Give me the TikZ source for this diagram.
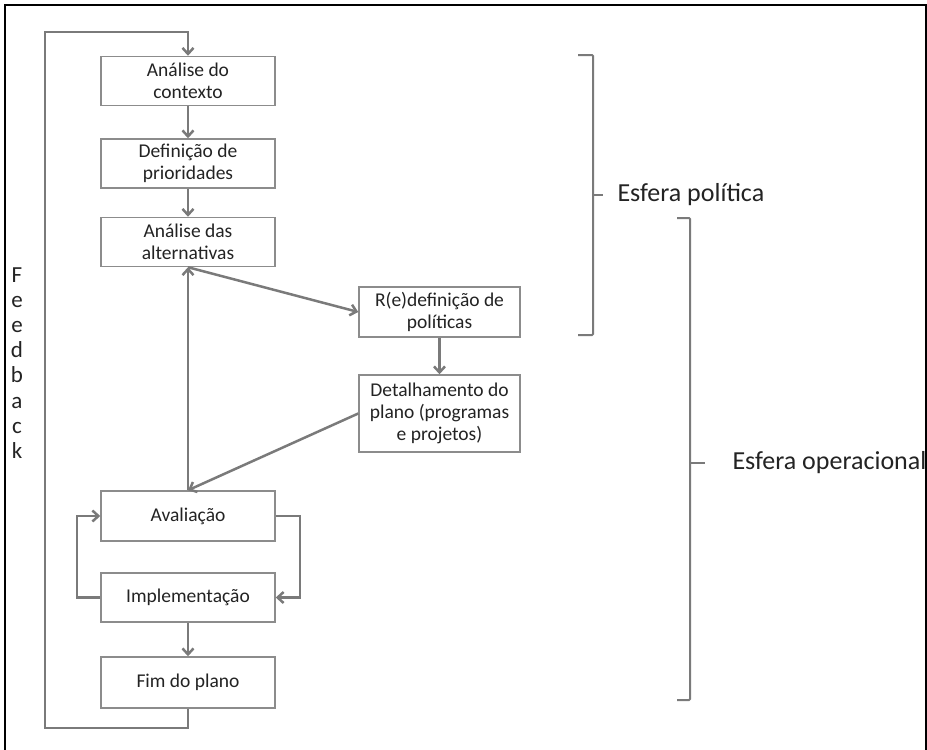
\documentclass[tikz,border=0pt]{standalone}
\usepackage{fontspec}
\setmainfont{Carlito}
\usetikzlibrary{arrows.meta}

\definecolor{linegray}{RGB}{122,122,122}
\definecolor{boxgray}{RGB}{140,140,140}
\definecolor{txtgray}{RGB}{35,35,35}

\begin{document}
\begin{tikzpicture}[x=1pt, y=-1pt,
    stage/.style={draw=boxgray, line width=1.5pt, fill=white, minimum width=174pt,
        minimum height=49pt, inner sep=0pt, align=center, text=txtgray,
        font=\fontsize{19.5}{22}\selectfont},
    flow/.style={draw=linegray, line width=2.5pt, -{Straight Barb[length=6pt, width=11pt]}},
    brace/.style={draw=linegray, line width=2pt, rounded corners=1pt},
    sphere/.style={anchor=west, text=txtgray, font=\fontsize{26}{28}\selectfont}]
    \useasboundingbox (0,0) rectangle (927,750);

    % Frame (open at the bottom)
    \draw[black, line width=1.2pt] (5,750) -- (5,5) -- (926,5) -- (926,750);

    % Define stages
    \node[stage] (ctx) at (188,81) {Análise do\\contexto};
    \node[stage] (prio) at (188,163.5) {Definição de\\prioridades};
    \node[stage] (alt) at (188,242) {Análise das\\alternativas};
    \node[stage, minimum width=161pt, minimum height=50pt] (redef) at (439.5,312) {R(e)definição de\\políticas};
    \node[stage, minimum width=161pt, minimum height=77pt] (det) at (439.5,413.5) {Detalhamento do\\plano (programas\\e projetos)};
    \node[stage, minimum height=50pt] (aval) at (188,516) {Avaliação};
    \node[stage] (impl) at (188,597.5) {Implementação};
    \node[stage, minimum height=51pt] (fim) at (188,682.5) {Fim do plano};

    % Feedback label
    \node[text=txtgray, align=center, font=\fontsize{23}{25.1}\selectfont] (fb) at (17,363) {F\\e\\e\\d\\b\\a\\c\\k};

    % Corner points of the loops
    \coordinate (fbBot) at (45,728);
    \coordinate (fbTop) at (45,32);
    \coordinate (loopL) at (77,597.5);
    \coordinate (loopR) at (300,516);

    % Draw flow
    \draw[flow] (ctx) -- (prio);
    \draw[flow] (prio) -- (alt);
    \draw[flow] (alt.south) -- (redef.west);
    \draw[flow] (redef) -- (det);
    \draw[flow] (det.west) -- (aval.north);
    \draw[flow] (aval.north) -- (alt.south);
    \draw[flow] (impl) -- (fim);
    \draw[flow] (impl.west) -- (loopL) |- (aval.west);
    \draw[flow] (aval.east) -- (loopR) |- (impl.east);
    \draw[flow] (fim.south) |- (fbBot) -- (fbTop) -| (ctx.north);

    % Spheres
    \coordinate (polTick) at (603,195);
    \coordinate (opTick) at (705,463);
    \draw[brace] (578,55) -- (593,55) -- (593,335) -- (578,335);
    \draw[brace] (593,195) -- (polTick);
    \node[sphere] (pol) at (614,195) {Esfera política};
    \draw[brace] (677,218) -- (690,218) -- (690,700) -- (677,700);
    \draw[brace] (690,463) -- (opTick);
    \node[sphere] (op) at (729,463) {Esfera operacional};
\end{tikzpicture}
\end{document}
